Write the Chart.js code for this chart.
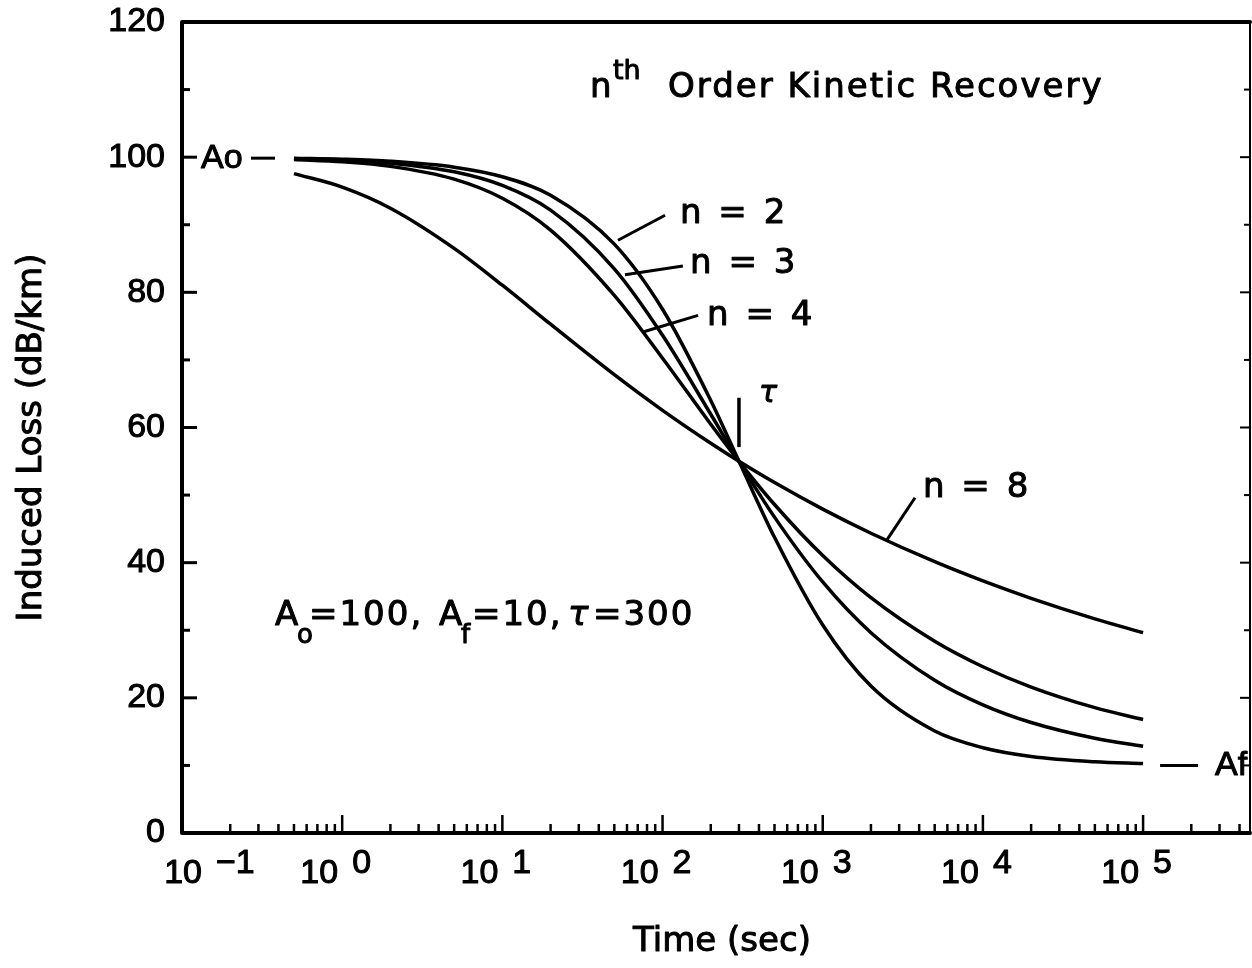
<!DOCTYPE html>
<html><head><meta charset="utf-8">
<script src="https://cdn.jsdelivr.net/npm/chart.js@4.4.1/dist/chart.umd.min.js"></script>
<style>html,body{margin:0;padding:0;background:#fff;overflow:hidden}canvas{display:block}</style>
</head><body>
<canvas id="c" width="1252" height="968"></canvas>
<script>
// ---- data ----
const times  = [0.5, 1, 2, 5, 10, 20, 50, 100, 200, 300, 500, 1000, 2000, 5000, 10000, 20000, 50000, 100000];
const lossN2 = [99.85, 99.70, 99.40, 98.52, 97.10, 94.38, 87.14, 77.50, 64.00, 55.00, 43.75, 30.77, 21.74, 15.09, 12.62, 11.33, 10.54, 10.27];
const lossN3 = [99.78, 99.55, 99.11, 97.83, 95.81, 92.16, 83.48, 73.64, 61.96, 55.00, 46.74, 37.14, 29.64, 22.60, 18.96, 16.35, 14.02, 12.84];
const lossN4 = [99.65, 99.31, 98.64, 96.75, 93.92, 89.21, 79.55, 70.25, 60.48, 55.00, 48.61, 41.06, 34.82, 28.37, 24.60, 21.60, 18.55, 16.79];
const lossN8 = [97.57, 95.57, 92.45, 86.51, 81.05, 75.28, 67.81, 62.53, 57.66, 55.00, 51.85, 47.92, 44.35, 40.14, 37.30, 34.73, 31.69, 29.65];
const seriesNames = ['n = 2', 'n = 3', 'n = 4', 'n = 8'];
const xDecades = [-1, 0, 1, 2, 3, 4, 5];
const xExponents = ['\u22121', '0', '1', '2', '3', '4', '5'];
const A0 = 100, Af = 10, tau = 300;
const xTitle = 'Time (sec)';
const yTitle = 'Induced Loss (dB/km)';
const titleText = ['n', 'th', 'Order Kinetic Recovery'];
const paramText = ['A', 'o', '=100,', 'A', 'f', '=10,', '\u03c4', '=300'];

// annotation anchors in data units [time, loss]
const labelAnchors  = [[128.5, 90.3], [148.6, 82.9], [189.7, 75.2], [4227, 49.7]];
const leaderAnchors = [[[52.7, 87.7], [103.7, 91.4]], [[58.3, 82.6], [134, 83.9]], [[74.5, 74.1], [166.6, 76.6]], [[2523, 43.4], [3767, 49.6]]];
const tauMark = [[tau, 57.1], [tau, 64.4]];

const series = [lossN2, lossN3, lossN4, lossN8];
const NUM = '"Liberation Sans", Arial, sans-serif';
const TXT = '"DejaVu Sans", sans-serif';

function txt(ctx, s, x, y, sw) {
  ctx.fillText(s, x, y);
  ctx.lineWidth = sw === undefined ? 1 : sw;
  ctx.strokeText(s, x, y);
}

const decor = {
  id: 'decor',
  afterDatasetsDraw(chart) {
    const {ctx, chartArea: a, scales: {x, y}} = chart;
    const P = (t, v) => [x.getPixelForValue(t), y.getPixelForValue(v)];
    ctx.save();
    ctx.strokeStyle = '#000'; ctx.fillStyle = '#000'; ctx.lineCap = 'round'; ctx.lineJoin = 'round';
    // frame
    ctx.lineWidth = 4;
    ctx.beginPath(); ctx.moveTo(a.right, a.top); ctx.lineTo(a.left, a.top); ctx.lineTo(a.left, a.bottom); ctx.lineTo(a.right, a.bottom); ctx.stroke();
    ctx.lineWidth = 2;
    ctx.beginPath(); ctx.moveTo(a.right, a.top); ctx.lineTo(a.right, a.bottom); ctx.stroke();
    // y ticks (inward)
    ctx.lineCap = 'butt';
    for (let v = 0; v <= 120; v += 10) {
      const py = y.getPixelForValue(v);
      const major = v % 20 === 0;
      ctx.lineWidth = 3;
      ctx.beginPath(); ctx.moveTo(a.left, py); ctx.lineTo(a.left + (major ? 15 : 8), py); ctx.stroke();
      ctx.lineWidth = 2;
      ctx.beginPath(); ctx.moveTo(a.right, py); ctx.lineTo(a.right - (major ? 10 : 6), py); ctx.stroke();
    }
    // x ticks (inward)
    ctx.lineWidth = 2.5;
    for (const k of xDecades) {
      for (let m = 1; m <= 9; m++) {
        const t = m * Math.pow(10, k);
        if (t < x.min || t > x.max) continue;
        const px = x.getPixelForValue(t);
        ctx.beginPath(); ctx.moveTo(px, a.bottom); ctx.lineTo(px, a.bottom - (m === 1 ? 18 : 9)); ctx.stroke();
      }
    }
    // x tick labels 10^k
    ctx.font = '34px ' + NUM; ctx.textBaseline = 'alphabetic';
    xDecades.forEach((k, i) => {
      const px = x.getPixelForValue(Math.pow(10, k)) + (k === -1 ? 24 : 0);
      ctx.textAlign = 'right'; txt(ctx, '10', px - 4, a.bottom + 50);
      ctx.textAlign = 'left';  txt(ctx, xExponents[i], px + 10, a.bottom + 40);
    });
    // axis titles
    ctx.font = '34px ' + TXT; ctx.textAlign = 'center'; ctx.textBaseline = 'middle';
    txt(ctx, xTitle, (a.left + a.right) / 2 + 6, 942);
    ctx.save();
    ctx.translate(32, (a.top + a.bottom) / 2 + 10);
    ctx.rotate(-Math.PI / 2);
    txt(ctx, yTitle, 0, 0);
    ctx.restore();
    // chart title
    ctx.textAlign = 'left'; ctx.textBaseline = 'alphabetic';
    ctx.font = '34px ' + TXT; txt(ctx, titleText[0], 590, 97);
    ctx.font = '27px ' + TXT; txt(ctx, titleText[1], 613, 79);
    ctx.font = '34px ' + TXT;
    ctx.letterSpacing = '2px';
    txt(ctx, titleText[2], 668, 97);
    ctx.letterSpacing = '0px';
    // Ao / Af markers
    const yA0 = y.getPixelForValue(A0), yAf = y.getPixelForValue(Af);
    ctx.font = '34px ' + NUM; ctx.textBaseline = 'middle';
    txt(ctx, 'Ao', a.left + 19, yA0 + 1);
    ctx.lineWidth = 3;
    ctx.beginPath(); ctx.moveTo(a.left + 69, yA0 + 1); ctx.lineTo(a.left + 93, yA0 + 1); ctx.stroke();
    const xEnd = x.getPixelForValue(times[times.length - 1]);
    ctx.lineWidth = 3;
    ctx.beginPath(); ctx.moveTo(xEnd + 17, yAf); ctx.lineTo(xEnd + 55, yAf); ctx.stroke();
    txt(ctx, 'Af', xEnd + 72, yAf);
    // tau marker
    ctx.textBaseline = 'alphabetic';
    const [t1x, t1y] = P(...tauMark[0]), [t2x, t2y] = P(...tauMark[1]);
    ctx.lineWidth = 3.5;
    ctx.beginPath(); ctx.moveTo(t1x, t1y); ctx.lineTo(t2x, t2y); ctx.stroke();
    ctx.font = 'italic 30px ' + TXT; txt(ctx, '\u03c4', t2x + 20, t2y + 4);
    // curve labels and leader lines
    ctx.font = '34px ' + TXT; ctx.letterSpacing = '3px';
    seriesNames.forEach((name, i) => {
      const [p, q] = leaderAnchors[i].map(d => P(...d));
      ctx.lineWidth = 3;
      ctx.beginPath(); ctx.moveTo(p[0], p[1]); ctx.lineTo(q[0], q[1]); ctx.stroke();
      const [lx, ly] = P(...labelAnchors[i]);
      txt(ctx, name, lx, ly);
    });
    ctx.letterSpacing = '0px';
    // parameter note
    const px0 = [275, 297, 309, 439, 461, 472, 568, 593];
    const base = 625;
    paramText.forEach((s, i) => {
      const sub = (i === 1 || i === 4);
      ctx.font = (i === 6 ? 'italic ' : '') + (sub ? '26px ' : '34px ') + TXT;
      ctx.letterSpacing = (i === 2 || i === 5 || i === 7) ? '2px' : '0px';
      txt(ctx, s, px0[i], base + (sub ? 18 : 0));
    });
    ctx.restore();
  }
};

function zeroPad(s) { s.paddingTop = 0; s.paddingBottom = 0; s.paddingLeft = 0; s.paddingRight = 0; }

new Chart(document.getElementById('c'), {
  type: 'line',
  data: {
    datasets: seriesNames.map((name, i) => ({
      label: name,
      data: times.map((t, j) => ({x: t, y: series[i][j]})),
      borderColor: '#000', borderWidth: 3.5, pointRadius: 0,
      cubicInterpolationMode: 'monotone', fill: false
    }))
  },
  options: {
    responsive: false, animation: false, devicePixelRatio: 1,
    layout: {padding: {left: 0, right: 2, top: 22, bottom: 0}},
    plugins: {legend: {display: false}, tooltip: {enabled: false}, title: {display: false}},
    scales: {
      x: {
        type: 'logarithmic', min: 0.1, max: 465000,
        grid: {display: false, drawTicks: false}, border: {display: false}, ticks: {display: false},
        afterFit(s) { s.height = 135; zeroPad(s); }
      },
      y: {
        min: 0, max: 120,
        ticks: {stepSize: 20, color: '#000', font: {family: NUM, size: 34}, padding: 17,
                textStrokeColor: '#000', textStrokeWidth: 1},
        grid: {display: false, drawTicks: false}, border: {display: false},
        afterFit(s) { s.width = 182; zeroPad(s); }
      }
    }
  },
  plugins: [decor]
});
</script>
</body></html>
